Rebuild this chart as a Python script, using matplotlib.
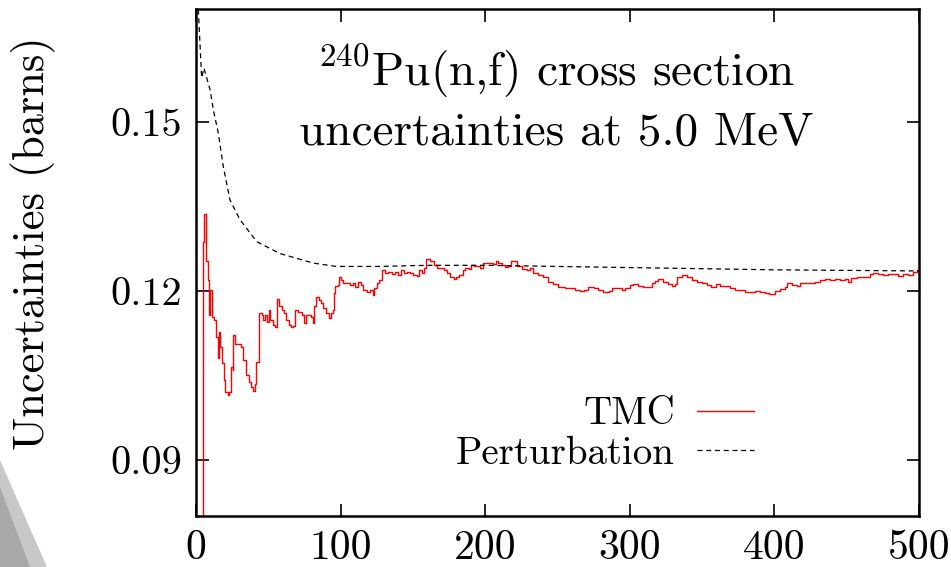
import matplotlib
matplotlib.use("Agg")
import matplotlib.pyplot as plt
from matplotlib.patches import Polygon

plt.rcParams["font.family"] = ["cmr10", "DejaVu Serif"]
plt.rcParams["mathtext.fontset"] = "cm"
plt.rcParams["axes.unicode_minus"] = False
plt.rcParams["axes.formatter.use_mathtext"] = True

# TMC running uncertainty (barns) vs number of random files
tmc_x = [
    4, 5, 5.5, 6.9, 8, 8.8, 9.7, 11, 12.7, 13.8, 15, 15.7, 16.6, 18, 19.6, 20.3,
    21.9, 23, 24.2, 25.4, 25.8, 27.2, 30, 31, 32.7, 34.6, 36.4, 38, 39.2, 40.8,
    41.5, 43.3, 43.8, 45.4, 46.6, 47.7, 48.9, 50.2, 51, 53, 54.4, 55.8, 57.6,
    59.5, 61, 62.2, 64, 65.7, 67.3, 68.2, 70.3, 71.9, 73.3, 74.9, 76, 78.4,
    79.5, 81.1, 81.8, 83, 84.8, 86.4, 88, 89.9, 91.7, 93.4, 94.5, 95.7, 96.4,
    98, 99.1, 100.5, 101.9, 104.2, 106.5, 108.8, 110, 112.3, 113.9, 115.8, 118,
    120.4, 122.2, 123.4, 125.4, 126.8, 128.4, 130.7, 133, 135.4, 137.7, 140,
    141.6, 143.5, 145.8, 148.1, 150.4, 152.7, 153.9, 156.2, 157.4, 159.2, 162,
    164.3, 166.6, 168.9, 171.2, 173.5, 175.8, 178.1, 179.9, 182.2, 184.5, 186.2,
    188.5, 190.1, 192.4, 194.3, 196.1, 198.3, 201, 203.2, 205.6, 207.5, 209.1,
    211.4, 213.7, 216, 217.6, 219.5, 221.8, 225.3, 228.7, 231, 233.3, 236.8,
    240.3, 243.7, 247.2, 250, 253, 255.3, 258.7, 262.2, 265.6, 268.4, 271.4,
    274.9, 278.3, 281.8, 285.3, 287.6, 291, 294.5, 296.7, 300.1, 302.4, 305.9,
    309.3, 312.8, 315.1, 317.4, 319.7, 323.2, 326.6, 328.9, 331.2, 332.8, 335.8,
    339.3, 342.7, 346.2, 349.6, 353.1, 356.5, 359.5, 362.3, 365.7, 369.2, 372.6,
    376.1, 379.5, 383, 386.4, 389.9, 393.3, 396.3, 400.4, 403.9, 407.3, 408.5,
    411.9, 415.4, 417.7, 421.1, 424.6, 428, 431.5, 434.9, 438.4, 441.8, 445.3,
    448.7, 451, 453.3, 456.8, 460.2, 463.7, 466, 468.3, 471.8, 475.2, 478.7,
    482.2, 485.6, 489.1, 492.5, 494.8, 496, 498.3, 500,
]
tmc_y = [
    0.075, 0.1287, 0.1336, 0.1252, 0.1219, 0.1157, 0.1201, 0.1154, 0.1148,
    0.1118, 0.1080, 0.1127, 0.1100, 0.1071, 0.1041, 0.1020, 0.1014, 0.1020,
    0.1065, 0.1059, 0.1121, 0.1106, 0.1106, 0.1100, 0.1077, 0.1050, 0.1038,
    0.1029, 0.1022, 0.1035, 0.1074, 0.1074, 0.1161, 0.1157, 0.1148, 0.1157,
    0.1145, 0.1166, 0.1148, 0.1139, 0.1136, 0.1185, 0.1172, 0.1166, 0.1160,
    0.1148, 0.1139, 0.1136, 0.1137, 0.1166, 0.1163, 0.1163, 0.1157, 0.1142,
    0.1157, 0.1157, 0.1154, 0.1143, 0.1173, 0.1188, 0.1184, 0.1178, 0.1169,
    0.1160, 0.1151, 0.1160, 0.1166, 0.1195, 0.1208, 0.1210, 0.1225, 0.1219,
    0.1214, 0.1214, 0.1210, 0.1214, 0.1207, 0.1216, 0.1210, 0.1202, 0.1198,
    0.1201, 0.1192, 0.1204, 0.1214, 0.1219, 0.1236, 0.1231, 0.1234, 0.1229,
    0.1233, 0.1228, 0.1236, 0.1231, 0.1234, 0.1231, 0.1228, 0.1226, 0.1237,
    0.1231, 0.1240, 0.1256, 0.1253, 0.1246, 0.1241, 0.1241, 0.1237, 0.1231,
    0.1225, 0.1220, 0.1224, 0.1228, 0.1236, 0.1240, 0.1239, 0.1246, 0.1244,
    0.1243, 0.1240, 0.1250, 0.1249, 0.1250, 0.1247, 0.1252, 0.1249, 0.1246,
    0.1242, 0.1243, 0.1253, 0.1252, 0.1244, 0.1238, 0.1237, 0.1240, 0.1232,
    0.1228, 0.1225, 0.1216, 0.1212, 0.1207, 0.1207, 0.1205, 0.1205, 0.1202,
    0.1199, 0.1202, 0.1207, 0.1204, 0.1201, 0.1197, 0.1200, 0.1205, 0.1204,
    0.1201, 0.1204, 0.1210, 0.1211, 0.1208, 0.1207, 0.1206, 0.1214, 0.1217,
    0.1220, 0.1216, 0.1212, 0.1208, 0.1211, 0.1225, 0.1227, 0.1224, 0.1219,
    0.1216, 0.1213, 0.1210, 0.1206, 0.1212, 0.1209, 0.1209, 0.1205, 0.1202,
    0.1202, 0.1198, 0.1198, 0.1200, 0.1197, 0.1196, 0.1194, 0.1200, 0.1203,
    0.1207, 0.1213, 0.1210, 0.1208, 0.1213, 0.1214, 0.1213, 0.1216, 0.1219,
    0.1220, 0.1219, 0.1220, 0.1219, 0.1220, 0.1216, 0.1222, 0.1224, 0.1224,
    0.1225, 0.1230, 0.1231, 0.1230, 0.1228, 0.1230, 0.1229, 0.1226, 0.1230,
    0.1228, 0.1228, 0.1234, 0.1236, 0.1237,
]

# perturbation estimate (barns)
pert_x = [1.6, 3.9, 5.5, 9.7, 12, 15.4, 18.9, 23.5, 30.4, 42, 58, 81, 97, 127,
          160, 200, 250, 300, 350, 400, 450, 500]
pert_y = [0.1699, 0.1578, 0.1595, 0.1557, 0.1521, 0.1480, 0.1420, 0.1361,
          0.1326, 0.1287, 0.1266, 0.1249, 0.1243, 0.1243, 0.1245, 0.1245,
          0.1243, 0.1241, 0.1239, 0.1237, 0.1236, 0.1235]

x_ticks = [0, 100, 200, 300, 400, 500]
y_ticks = [0.09, 0.12, 0.15]

fig = plt.figure(figsize=(9.51, 5.67), dpi=100)
ax = fig.add_axes([196 / 951, 1 - 516 / 567, 723 / 951, 507 / 567])

ax.plot(tmc_x, tmc_y, color="#ff0000", lw=1.0, drawstyle="steps-post", label="TMC")
ax.plot(pert_x, pert_y, color="black", lw=0.9, ls=(0, (4, 3)), label="Perturbation")

ax.set_xlim(0, 500)
ax.set_ylim(0.08, 0.17)
ax.set_xticks(x_ticks)
ax.set_yticks(y_ticks)
ax.set_xticklabels([str(t) for t in x_ticks])
ax.set_yticklabels([f"{t:.2f}" for t in y_ticks])
ax.tick_params(direction="in", length=9, width=1.2, top=True, right=True)
ax.tick_params(axis="x", labelsize=30, pad=10)
ax.tick_params(axis="y", labelsize=29, pad=10)
for spine in ax.spines.values():
    spine.set_linewidth(1.8)

fig.text(33 / 951, 1 - 243 / 567, "Uncertainties (barns)", rotation=90,
         ha="center", va="center", fontsize=32)

ax.text(0.498, 0.85, "$^{240}$Pu(n,f) cross section", transform=ax.transAxes,
        ha="center", va="baseline", fontsize=34)
ax.text(0.498, 0.732, "uncertainties at 5.0 MeV", transform=ax.transAxes,
        ha="center", va="baseline", fontsize=34)

ax.legend(loc="lower right", bbox_to_anchor=(0.772, 0.087), frameon=False,
          markerfirst=False, fontsize=28, handlelength=1.47, handletextpad=0.57,
          labelspacing=0.1, borderpad=0.0, borderaxespad=0.0)

# page shadow in the lower-left corner
fig.patches.append(Polygon([(0, 107 / 567), (0, 0), (47 / 951, 0)],
                           closed=True, transform=fig.transFigure,
                           facecolor="#c8c8c8", edgecolor="none"))
fig.patches.append(Polygon([(0, 80 / 567), (0, 0), (30 / 951, 0)],
                           closed=True, transform=fig.transFigure,
                           facecolor="#a8a8a8", edgecolor="none"))

fig.savefig("out.png", dpi=100)
